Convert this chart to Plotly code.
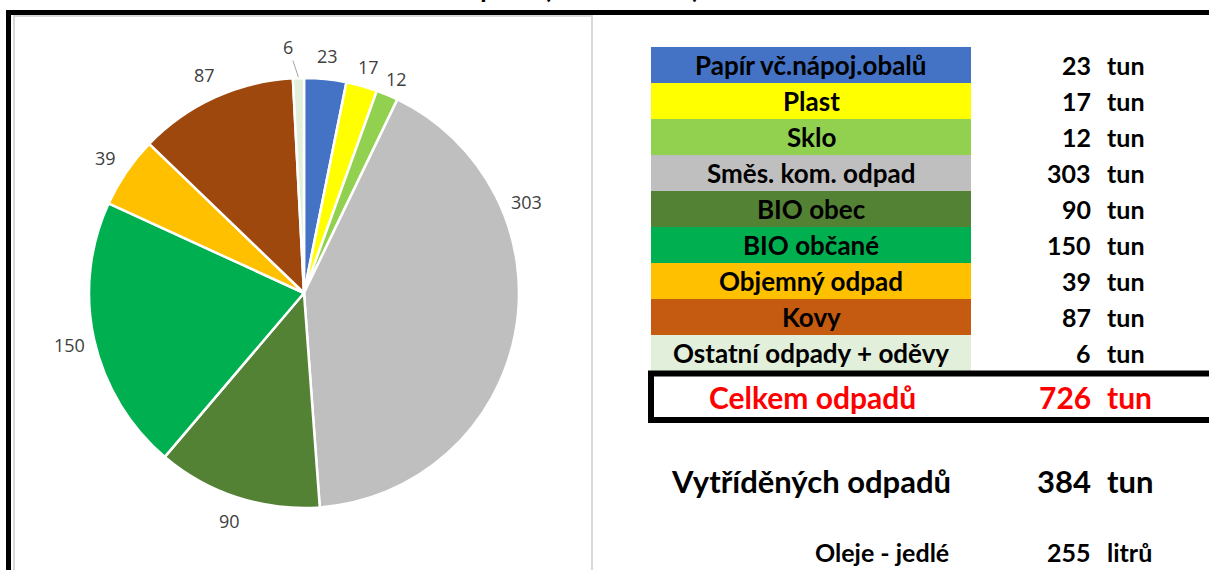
import math
import plotly.graph_objects as go

# ---- data ----
categories = ["Papír vč.nápoj.obalů", "Plast", "Sklo", "Směs. kom. odpad", "BIO obec",
              "BIO občané", "Objemný odpad", "Kovy", "Ostatní odpady + oděvy"]
values = [23, 17, 12, 303, 90, 150, 39, 87, 6]
pie_colors = ["#4472C4", "#FFFF00", "#92D050", "#BFBFBF", "#548235",
              "#00B050", "#FFC000", "#9E480E", "#E2EFDA"]
table_colors = ["#4472C4", "#FFFF00", "#92D050", "#BFBFBF", "#548235",
                "#00B050", "#FFC000", "#C55A11", "#E2EFDA"]
# where along each slice its value label sits (0 = slice start, 1 = slice end)
label_fraction = [0.5, 0.5, 0.5, 0.28, 0.5, 0.5, 0.5, 0.5, 0.5]
unit = "tun"
total_label, total_value = "Celkem odpadů", 726
sorted_label, sorted_value = "Vytříděných odpadů", 384
oil_label, oil_value, oil_unit = "Oleje - jedlé", 255, "litrů"
title_text = "Celkem odpadů (ostatní obec) za rok 2023"

W, H = 1209, 570
FONT = "Lato"


def px(x):
    return x / W


def py(y):
    return 1 - y / H


fig = go.Figure()

# pie geometry (pixels)
cx, cy, r = 304, 293, 215
fig.add_trace(go.Pie(
    labels=categories, values=values, sort=False, direction="clockwise", rotation=0,
    marker=dict(colors=pie_colors, line=dict(color="white", width=2.5)),
    textinfo="none",
    showlegend=False, hoverinfo="label+value",
    domain=dict(x=[px(cx - r), px(cx + r)], y=[py(cy + r), py(cy - r)]),
))

annotations = []

# value labels around the pie, placed from the cumulative values
total = sum(values)
cum = 0
label_r = r + 25
for i, (v, f) in enumerate(zip(values, label_fraction)):
    a0 = cum / total * 2 * math.pi
    a1 = (cum + v) / total * 2 * math.pi
    cum += v
    ang = a0 + f * (a1 - a0)
    if v / total < 0.012:
        # tiny slice: label with a leader line
        tipx = cx + (r + 1) * math.sin(ang)
        tipy = cy - (r + 1) * math.cos(ang)
        annotations.append(dict(text=str(v), x=px(tipx), y=py(tipy), xref="paper", yref="paper",
                                showarrow=True, arrowhead=0, arrowwidth=1, arrowcolor="#A6A6A6",
                                ax=-10, ay=-30, standoff=0,
                                font=dict(family="Open Sans", size=18, color="#404040")))
    else:
        lx = cx + label_r * math.sin(ang)
        ly = cy - label_r * math.cos(ang)
        # nudge labels in the upper right outward like the original's best-fit placement
        if 0 < math.sin(ang) and math.cos(ang) > 0.8:
            ly += 8 * math.sin(ang) / 0.4
        annotations.append(dict(text=str(v), x=px(lx), y=py(ly), xref="paper", yref="paper",
                                xanchor="center", yanchor="middle", showarrow=False,
                                font=dict(family="Open Sans", size=18, color="#404040")))

shapes = []
# chart-area light border
shapes.append(dict(type="rect", xref="paper", yref="paper",
                   x0=px(14), x1=px(592), y0=py(16), y1=py(580),
                   line=dict(color="#D9D9D9", width=2), fillcolor="rgba(0,0,0,0)", layer="below"))
# thick black frame lines (top and left)
shapes.append(dict(type="line", xref="paper", yref="paper",
                   x0=px(6), x1=px(1215), y0=py(12.5), y1=py(12.5),
                   line=dict(color="black", width=5)))
shapes.append(dict(type="line", xref="paper", yref="paper",
                   x0=px(8.5), x1=px(8.5), y0=py(10), y1=py(575),
                   line=dict(color="black", width=5)))

row_top, row_h = 47, 36
TS = 26
for i, (cat, val, col) in enumerate(zip(categories, values, table_colors)):
    y0 = row_top + i * row_h
    shapes.append(dict(type="rect", xref="paper", yref="paper",
                       x0=px(651), x1=px(971), y0=py(y0), y1=py(y0 + row_h),
                       fillcolor=col, line=dict(width=0), layer="below"))
    yc = py(y0 + row_h / 2)
    annotations.append(dict(text=f"<b>{cat}</b>", x=px(811), y=yc, xref="paper", yref="paper",
                            xanchor="center", yanchor="middle", showarrow=False,
                            font=dict(family=FONT, size=TS, color="black")))
    annotations.append(dict(text=f"<b>{val}</b>", x=px(1093), y=yc, xref="paper", yref="paper",
                            xanchor="right", yanchor="middle", showarrow=False,
                            font=dict(family=FONT, size=25, color="black")))
    annotations.append(dict(text=f"<b>{unit}</b>", x=px(1105), y=yc, xref="paper", yref="paper",
                            xanchor="left", yanchor="middle", showarrow=False,
                            font=dict(family=FONT, size=25, color="black")))

# total box
shapes.append(dict(type="rect", xref="paper", yref="paper",
                   x0=px(651), x1=px(1220), y0=py(373.5), y1=py(420),
                   line=dict(color="black", width=6), fillcolor="white"))


def add_pair(label, lx, number, u, y, size, color):
    annotations.append(dict(text=f"<b>{label}</b>", x=px(lx), y=py(y), xref="paper", yref="paper",
                            xanchor="center", yanchor="middle", showarrow=False,
                            font=dict(family=FONT, size=size, color=color)))
    annotations.append(dict(text=f"<b>{number}</b>", x=px(1093), y=py(y), xref="paper", yref="paper",
                            xanchor="right", yanchor="middle", showarrow=False,
                            font=dict(family=FONT, size=size, color=color)))
    annotations.append(dict(text=f"<b>{u}</b>", x=px(1105), y=py(y), xref="paper", yref="paper",
                            xanchor="left", yanchor="middle", showarrow=False,
                            font=dict(family=FONT, size=size, color=color)))


add_pair(total_label, 812, total_value, unit, 397, 30, "#FF0000")
add_pair(sorted_label, 811, sorted_value, unit, 481, 31, "black")
add_pair(oil_label, 882, oil_value, oil_unit, 552, 25, "black")

# title (mostly cut off at the top edge like the original)
annotations.append(dict(text=f"<b>{title_text}</b>", x=px(600), y=py(6), xref="paper", yref="paper",
                        xanchor="center", yanchor="bottom", showarrow=False,
                        font=dict(family=FONT, size=26, color="black")))

fig.update_layout(
    width=W, height=H, margin=dict(l=0, r=0, t=0, b=0),
    paper_bgcolor="white", plot_bgcolor="white",
    shapes=shapes, annotations=annotations,
)

fig.write_html("out.html", config={"displayModeBar": False},
               post_script="document.body.style.margin='0px';document.body.style.overflow='hidden';")
